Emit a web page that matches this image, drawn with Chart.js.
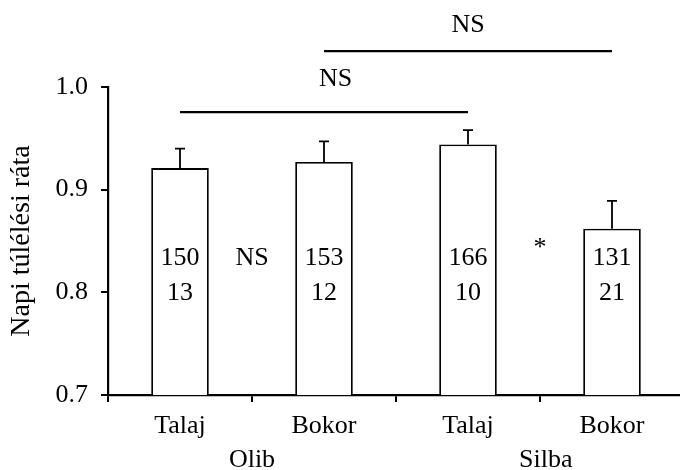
<!DOCTYPE html>
<html>
<head>
<meta charset="utf-8">
<script src="https://cdn.jsdelivr.net/npm/chart.js@4"></script>
<style>
  html, body { margin: 0; padding: 0; background: #fff; overflow: hidden; }
  #wrap { position: relative; width: 700px; height: 470px; }
</style>
</head>
<body>
<div id="wrap"><canvas id="grafikon"></canvas></div>
<script>
const kategoriak = ["Talaj", "Bokor", "Talaj", "Bokor"];
const szigetek = ["Olib", "Silba"];
const rata = [0.921, 0.927, 0.944, 0.862];
const hibaFelso = [0.940, 0.947, 0.958, 0.889];
const fesznekSzam = [150, 153, 166, 131];
const pusztulasSzam = [13, 12, 10, 21];
const parosJel = ["NS", "*"];          // Talaj vs Bokor, szigetenként
const zarojelPar = [[0, 2], [1, 3]];   // mely oszlopokat köti össze
const zarojelJel = ["NS", "NS"];

const betu = "'Liberation Serif', 'Times New Roman', serif";
const meret = 26;
const fekete = "#000";

// hibasávok, feliratok, szigetnevek, összekötő vonalak
const rajzolo = {
    id: "rajzolo",
    afterDatasetsDraw(chart) {
        const ctx = chart.ctx;
        const x = chart.scales.x;
        const y = chart.scales.y;
        const oszlopok = chart.getDatasetMeta(0).data;

        ctx.save();
        ctx.strokeStyle = fekete;
        ctx.fillStyle = fekete;

        // hibasávok (csak felfelé)
        ctx.lineWidth = 1.8;
        oszlopok.forEach((bar, i) => {
            const yt = y.getPixelForValue(hibaFelso[i]);
            ctx.beginPath();
            ctx.moveTo(bar.x, bar.y);
            ctx.lineTo(bar.x, yt);
            ctx.moveTo(bar.x - 5, yt);
            ctx.lineTo(bar.x + 5, yt);
            ctx.stroke();
        });

        ctx.font = meret + "px " + betu;
        ctx.textAlign = "center";
        ctx.textBaseline = "middle";

        // számok az oszlopokban
        oszlopok.forEach((bar, i) => {
            ctx.fillText(String(fesznekSzam[i]), bar.x, y.getPixelForValue(0.833));
            ctx.fillText(String(pusztulasSzam[i]), bar.x, y.getPixelForValue(0.799));
        });

        // jelek a párok között (a csillag kicsit feljebb ül)
        parosJel.forEach((jel, k) => {
            const xm = (oszlopok[2 * k].x + oszlopok[2 * k + 1].x) / 2;
            const ym = jel === "*" ? y.getPixelForValue(0.843) : y.getPixelForValue(0.833);
            ctx.fillText(jel, xm, ym);
        });

        // összekötő vonalak
        const szintek = [0.9756, 1.035];
        const jelSzint = [1.008, 1.060];
        ctx.lineWidth = 2.2;
        zarojelPar.forEach((p, k) => {
            const yl = y.getPixelForValue(szintek[k]);
            ctx.beginPath();
            ctx.moveTo(oszlopok[p[0]].x, yl);
            ctx.lineTo(oszlopok[p[1]].x, yl);
            ctx.stroke();
            const xm = k === 0 ? x.getPixelForValue(1.08) : (oszlopok[p[0]].x + oszlopok[p[1]].x) / 2;
            ctx.fillText(zarojelJel[k], xm, y.getPixelForValue(jelSzint[k]));
        });

        // szigetnevek a tengely alatt
        const csoportHely = [0.5, 2.54];
        szigetek.forEach((nev, k) => {
            const xm = x.getPixelForValue(csoportHely[k]);
            ctx.fillText(nev, xm, chart.chartArea.bottom + 65);
        });

        ctx.restore();
    }
};

new Chart(document.getElementById("grafikon"), {
    type: "bar",
    data: {
        labels: kategoriak,
        datasets: [{
            data: rata,
            backgroundColor: "#fff",
            borderColor: fekete,
            borderWidth: 1.8,
            barPercentage: 0.4,
            categoryPercentage: 1.0
        }]
    },
    options: {
        responsive: true,
        maintainAspectRatio: false,
        animation: false,
        layout: { padding: { top: 87, right: 16, left: 0, bottom: 0 } },
        plugins: {
            legend: { display: false },
            tooltip: { enabled: false }
        },
        scales: {
            x: {
                grid: {
                    offset: true,
                    drawOnChartArea: false,
                    tickLength: 7,
                    color: fekete,
                    lineWidth: 2
                },
                border: { color: fekete, width: 2.2 },
                ticks: {
                    color: fekete,
                    padding: 9,
                    font: { family: betu, size: meret },
                    maxRotation: 0
                },
                afterFit(scale) { scale.height = 75; }
            },
            y: {
                min: 0.7,
                max: 1.0,
                grid: {
                    drawOnChartArea: false,
                    tickLength: 7,
                    color: fekete,
                    lineWidth: 2
                },
                border: { color: fekete, width: 2.2 },
                ticks: {
                    stepSize: 0.1,
                    color: fekete,
                    padding: 13,
                    font: { family: betu, size: meret },
                    callback: (v) => v.toFixed(1)
                },
                title: {
                    display: true,
                    text: "Napi túlélési ráta",
                    color: fekete,
                    font: { family: betu, size: 28 },
                    padding: { top: 5, bottom: 0 }
                },
                afterFit(scale) { scale.width = 108; }
            }
        }
    },
    plugins: [rajzolo]
});
</script>
</body>
</html>
